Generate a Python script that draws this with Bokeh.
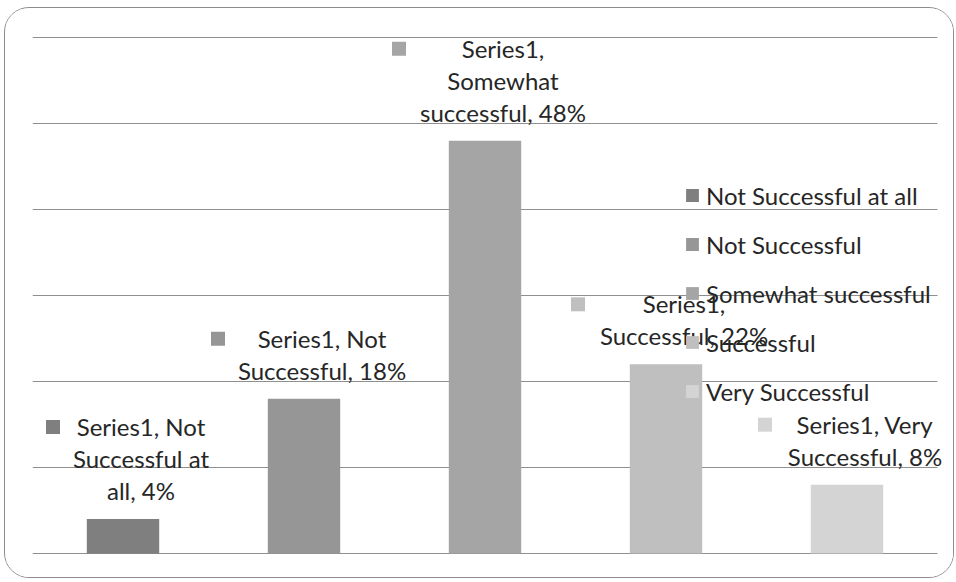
import textwrap

from bokeh.core.properties import value
from bokeh.embed import file_html
from bokeh.models import Legend, LegendItem, Range1d, ColumnDataSource
from bokeh.plotting import figure
from bokeh.resources import INLINE

# ---- data -------------------------------------------------------------
categories = ["Not Successful at all", "Not Successful", "Somewhat successful",
              "Successful", "Very Successful"]
percent = [4, 18, 48, 22, 8]
series_name = "Series1"
y_ticks = [0, 10, 20, 30, 40, 50, 60]

# ---- style ------------------------------------------------------------
colors = ["#7f7f7f", "#969696", "#a5a5a5", "#bfbfbf", "#d4d4d4"]
FONT = "Lato"
FONT_SIZE = "24px"
TEXT_COLOR = "#262626"
GRID_COLOR = "#8f8f8f"
LINE_PX = 32                        # line pitch of the data labels
key_dx = [-70, -86, -86, -88, -82]  # label key square, px left of bar centre

# canvas sits inside a rounded 1px border, 4px/7px from the page corner
W, H = 950, 571
GRID_LEFT, GRID_RIGHT = 27, 18      # px from canvas edges to the grid ends
GRID_TOP, GRID_BOTTOM = 29, 26      # px from canvas edges to top/bottom grid lines
PAD = 6                             # extra frame room so edge grid lines are not clipped
PAD_RIGHT = 16                      # room for labels that run past the last grid column

grid_w = W - GRID_LEFT - GRID_RIGHT
grid_h = H - GRID_TOP - GRID_BOTTOM
px_x = grid_w / len(categories)
px_y = grid_h / y_ticks[-1]

xs = [i + 0.5 for i in range(len(categories))]
labels = [textwrap.fill(f"{series_name}, {c}, {v}%", 15) for c, v in zip(categories, percent)]
n_lines = [lab.count("\n") + 1 for lab in labels]
key_x = [x + dx / px_x for x, dx in zip(xs, key_dx)]
key_y = [v + (28 + LINE_PX * (n - 1)) / px_y for v, n in zip(percent, n_lines)]

src = ColumnDataSource(dict(x=xs, pct=percent, cat=categories, color=colors,
                            label=labels, kx=key_x, ky=key_y))

p = figure(width=W, height=H, output_backend="svg", toolbar_location=None,
           x_range=Range1d(0, len(categories) + PAD_RIGHT / px_x),
           y_range=Range1d(y_ticks[0] - PAD / px_y, y_ticks[-1] + PAD / px_y),
           min_border_left=GRID_LEFT, min_border_right=GRID_RIGHT - PAD_RIGHT,
           min_border_top=GRID_TOP - PAD, min_border_bottom=GRID_BOTTOM - PAD)
p.outline_line_color = None
p.xaxis.visible = False
p.yaxis.visible = False
p.xgrid.visible = False
p.ygrid.visible = False
p.styles = {"margin-left": "4px", "margin-top": "7px",
            "border": "1px solid #8c8c8c", "border-radius": "25px",
            "overflow": "hidden"}

# horizontal grid lines across the category span
p.segment(x0=0, x1=len(categories), y0=y_ticks, y1=y_ticks,
          line_color=GRID_COLOR, line_width=1)

bars = p.vbar(x="x", top="pct", width=0.4, fill_color="color", line_color=None, source=src)

# data labels with their colour keys
p.scatter(x="kx", y="ky", marker="square", size=14, fill_color="color",
          line_color=None, source=src)
p.text(x="x", y="pct", text="label", source=src, x_offset=18, y_offset=-14,
       text_align="center", text_baseline="bottom", text_font=value(FONT),
       text_font_size=FONT_SIZE, text_line_height=1.105, text_color=TEXT_COLOR)

legend = Legend(
    items=[LegendItem(label=c, renderers=[bars], index=i) for i, c in enumerate(categories)],
    location=(652, 153), padding=0, margin=0, spacing=19,
    glyph_width=16, glyph_height=16, label_standoff=6, label_height=30,
    label_text_font=FONT, label_text_font_size=FONT_SIZE, label_text_color=TEXT_COLOR,
    border_line_color=None, background_fill_alpha=0)
p.add_layout(legend)

open("out.html", "w").write(file_html(p, INLINE))
